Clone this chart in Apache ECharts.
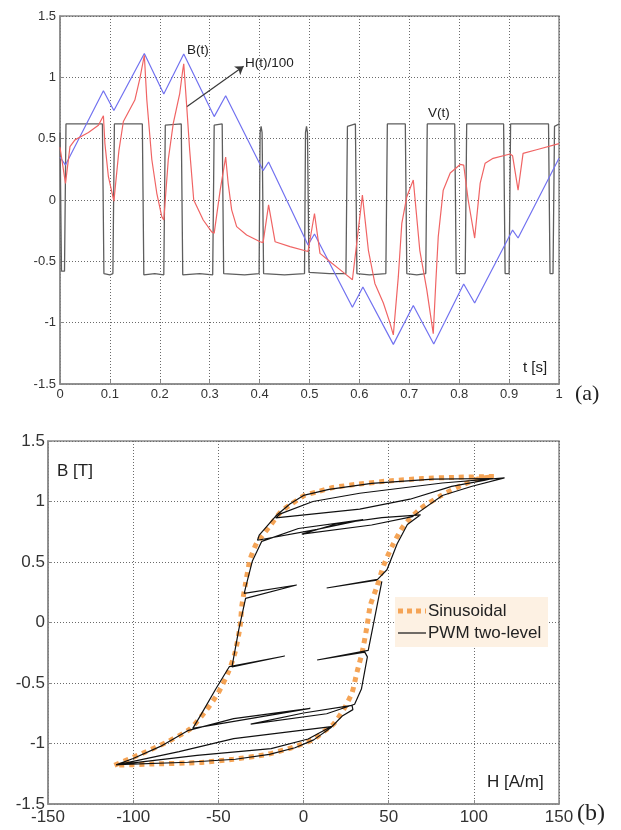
<!DOCTYPE html>
<html><head><meta charset="utf-8">
<script src="https://cdn.jsdelivr.net/npm/echarts@6/dist/echarts.min.js"></script>
<style>html,body{margin:0;padding:0;background:#fff}#c{width:621px;height:830px}</style>
</head><body><div id="c"></div><script>
// ---- (a) time signals ----
const tV = [0, 0.003, 0.009, 0.012, 0.05, 0.085, 0.088, 0.1, 0.106, 0.109, 0.14, 0.165, 0.168, 0.19, 0.208, 0.211, 0.243, 0.246, 0.28, 0.306, 0.309, 0.325, 0.328, 0.37, 0.399, 0.401, 0.403, 0.405, 0.408, 0.45, 0.49, 0.492, 0.494, 0.496, 0.499, 0.54, 0.573, 0.576, 0.592, 0.595, 0.62, 0.653, 0.656, 0.692, 0.695, 0.715, 0.733, 0.736, 0.791, 0.794, 0.812, 0.815, 0.889, 0.892, 0.9, 0.903, 0.979, 0.982, 0.988, 0.991, 1.0];
const vV = [0.55, -0.58, -0.58, 0.62, 0.62, 0.62, -0.6, -0.61, -0.6, 0.62, 0.62, 0.62, -0.61, -0.6, -0.61, 0.61, 0.62, -0.61, -0.6, -0.61, 0.61, 0.62, -0.6, -0.61, -0.6, 0.55, 0.6, 0.55, -0.6, -0.61, -0.6, 0.55, 0.6, 0.55, -0.59, -0.6, -0.6, 0.6, 0.62, -0.6, -0.61, -0.6, 0.62, 0.62, -0.6, -0.61, -0.6, 0.62, 0.62, -0.6, -0.6, 0.62, 0.62, -0.6, -0.6, 0.62, 0.62, -0.6, -0.6, 0.6, 0.62];
const tB = [0, 0.011, 0.087, 0.108, 0.169, 0.208, 0.248, 0.309, 0.332, 0.407, 0.418, 0.497, 0.51, 0.586, 0.607, 0.668, 0.708, 0.749, 0.809, 0.831, 0.907, 0.918, 1.0];
const vB = [0.35, 0.285, 0.89, 0.73, 1.195, 0.864, 1.19, 0.68, 0.85, 0.24, 0.31, -0.367, -0.277, -0.875, -0.71, -1.177, -0.86, -1.174, -0.685, -0.84, -0.245, -0.31, 0.34];
const tH = [0, 0.011, 0.02, 0.03, 0.057, 0.077, 0.087, 0.09, 0.097, 0.108, 0.118, 0.127, 0.15, 0.16, 0.169, 0.174, 0.184, 0.194, 0.204, 0.208, 0.217, 0.227, 0.24, 0.246, 0.248, 0.254, 0.26, 0.268, 0.287, 0.304, 0.309, 0.321, 0.332, 0.337, 0.344, 0.354, 0.374, 0.401, 0.407, 0.418, 0.431, 0.461, 0.497, 0.51, 0.521, 0.545, 0.571, 0.586, 0.606, 0.618, 0.631, 0.648, 0.661, 0.668, 0.678, 0.685, 0.695, 0.708, 0.721, 0.735, 0.748, 0.753, 0.758, 0.768, 0.782, 0.802, 0.809, 0.818, 0.831, 0.842, 0.852, 0.868, 0.902, 0.907, 0.918, 0.928, 0.955, 1.0];
const vH = [0.43, 0.136, 0.435, 0.49, 0.55, 0.61, 0.687, 0.46, 0.19, -0.01, 0.40, 0.64, 0.815, 0.99, 1.18, 0.815, 0.33, 0.055, -0.136, -0.163, 0.33, 0.625, 0.87, 1.06, 1.11, 0.76, 0.40, 0.0, -0.163, -0.26, -0.27, 0.08, 0.35, 0.136, -0.08, -0.217, -0.285, -0.34, -0.348, -0.04, -0.34, -0.38, -0.42, -0.11, -0.435, -0.516, -0.60, -0.65, 0.04, -0.41, -0.68, -0.84, -1.0, -1.1, -0.625, -0.19, 0.027, 0.163, -0.41, -0.73, -1.09, -0.68, -0.3, 0.08, 0.22, 0.29, 0.285, 0.0, -0.31, 0.136, 0.30, 0.34, 0.375, 0.36, 0.08, 0.38, 0.41, 0.46];
// ---- (b) B-H loops ----
const sinH = [111.8, 90, 70, 50, 30, 17.6, 8, 0, -7, -13.7, -19.6, -24, -27.4, -31.4, -34.3, -36.2, -37.2, -40.2, -44.1, -50, -56.8, -66.6, -80.4, -96, -111, -90.2, -60.8, -41.2, -21.5, -5.9, 5.9, 12, 17.6, 23.5, 28.5, 31.4, 34.4, 37.3, 39.2, 43.2, 47, 52, 58.8, 68.6, 80.4, 92.2, 102, 111.8];
const sinB = [1.207, 1.2, 1.19, 1.17, 1.14, 1.116, 1.08, 1.046, 0.98, 0.91, 0.80, 0.72, 0.66, 0.52, 0.30, 0.137, -0.03, -0.25, -0.41, -0.58, -0.72, -0.88, -0.99, -1.09, -1.18, -1.17, -1.157, -1.13, -1.09, -1.03, -0.965, -0.9, -0.84, -0.72, -0.58, -0.41, -0.25, -0.03, 0.14, 0.30, 0.47, 0.63, 0.80, 0.94, 1.046, 1.13, 1.184, 1.207];
const pwmH = [43, 13.6, 43.5, 49, 55, 61, 68.7, 46, 19, -1, 40, 64, 81.5, 99, 118, 81.5, 33, 5.5, -13.6, -16.3, 33, 62.5, 87, 106, 111, 76, 40, 15, 0, -8, -16.3, -26, -27, 8, 35, -3, -24.5, -30, -34, -34.8, -4, -34, -38, -42, -11, -43.5, -51.6, -60, -65, 4, -41, -68, -84, -100, -110, -62.5, -19, 2.7, 16.3, -41, -73, -109, -68, -40, -20, -5, 6, 16, 23, 29, 28.5, 0, -31, 13.6, 30, 34, 37.5, 36, 8, 38, 41, 46];
const pwmB = [0.35, 0.285, 0.357, 0.436, 0.651, 0.81, 0.89, 0.867, 0.814, 0.73, 0.806, 0.875, 1.05, 1.126, 1.195, 1.153, 1.068, 1.0, 0.898, 0.864, 0.937, 1.019, 1.125, 1.174, 1.19, 1.185, 1.15, 1.1, 1.05, 0.98, 0.88, 0.722, 0.68, 0.769, 0.85, 0.777, 0.671, 0.509, 0.289, 0.24, 0.31, 0.199, -0.059, -0.367, -0.277, -0.364, -0.552, -0.757, -0.875, -0.71, -0.794, -0.894, -1.024, -1.124, -1.177, -1.098, -1.042, -0.963, -0.86, -0.96, -1.067, -1.174, -1.155, -1.13, -1.09, -1.035, -0.97, -0.87, -0.77, -0.72, -0.685, -0.748, -0.84, -0.754, -0.676, -0.55, -0.284, -0.245, -0.31, -0.231, -0.017, 0.34];
// axis ranges
const axisA = {xmin: 0, xmax: 1, xstep: 0.1, ymin: -1.5, ymax: 1.5, ystep: 0.5};
const axisB = {xmin: -150, xmax: 150, xstep: 50, ymin: -1.5, ymax: 1.5, ystep: 0.5};

const pair = (xs, ys) => xs.map((x, i) => [x, ys[i]]);
const SANS = "'Liberation Sans', Arial, sans-serif";
const SERIF = "'Liberation Serif', 'Times New Roman', serif";
const gridLine = {show: true, lineStyle: {color: '#6a6a6a', type: [1, 2], width: 1}};
function mkX(idx, ax, fs, margin) {
  return {gridIndex: idx, type: 'value', min: ax.xmin, max: ax.xmax, interval: ax.xstep,
    axisLine: {show: true, onZero: false, lineStyle: {color: '#8a8a8a', width: 1.5}},
    axisTick: {show: true, inside: true, length: 4, lineStyle: {color: '#8a8a8a'}},
    axisLabel: {fontSize: fs, color: '#333', margin: margin, fontFamily: SANS},
    splitLine: gridLine};
}
function mkY(idx, ax, fs, margin) {
  return {gridIndex: idx, type: 'value', min: ax.ymin, max: ax.ymax, interval: ax.ystep,
    axisLine: {show: true, onZero: false, lineStyle: {color: '#8a8a8a', width: 1.5}},
    axisTick: {show: true, inside: true, length: 4, lineStyle: {color: '#8a8a8a'}},
    axisLabel: {fontSize: fs, color: '#333', margin: margin, fontFamily: SANS},
    splitLine: gridLine};
}
const chart = echarts.init(document.getElementById('c'), null, {renderer: 'canvas'});
const txt = (text, x, y, fs, font) => ({type: 'text', x: x, y: y, z: 100,
  style: {text: text, fontSize: fs, fontFamily: font || SANS, fill: '#222', textVerticalAlign: 'middle'}});
chart.setOption({
  animation: false,
  backgroundColor: '#fff',
  grid: [
    {left: 60, top: 16, width: 499, height: 368, show: true, borderColor: '#8a8a8a', borderWidth: 1.5, backgroundColor: 'transparent', containLabel: false, outerBoundsMode: 'none'},
    {left: 48, top: 441, width: 511, height: 363, show: true, borderColor: '#8a8a8a', borderWidth: 1.5, backgroundColor: 'transparent', containLabel: false, outerBoundsMode: 'none'}
  ],
  xAxis: [mkX(0, axisA, 13, 4), mkX(1, axisB, 17, 5)],
  yAxis: [mkY(0, axisA, 13, 4), mkY(1, axisB, 17, 3)],
  series: [
    {name: 'V(t)', type: 'line', xAxisIndex: 0, yAxisIndex: 0, data: pair(tV, vV), showSymbol: false,
      lineStyle: {color: '#5e5e5e', width: 1.3}, z: 3},
    {name: 'B(t)', type: 'line', xAxisIndex: 0, yAxisIndex: 0, data: pair(tB, vB), showSymbol: false,
      lineStyle: {color: '#7272f0', width: 1.2}, z: 4},
    {name: 'H(t)/100', type: 'line', xAxisIndex: 0, yAxisIndex: 0, data: pair(tH, vH), showSymbol: false,
      lineStyle: {color: '#f06464', width: 1.2}, z: 5,
      markLine: {silent: true, symbol: ['none', 'arrow'], symbolSize: 8, label: {show: false},
        lineStyle: {color: '#3a3a3a', width: 1.2, type: 'solid'},
        data: [[{coord: [0.254, 0.76]}, {coord: [0.368, 1.09]}]]}},
    {name: 'Sinusoidal', type: 'line', xAxisIndex: 1, yAxisIndex: 1, data: pair(sinH, sinB), showSymbol: false,
      smooth: 0.2, lineStyle: {color: '#f5a456', width: 5, type: [5, 5], cap: 'butt'}, z: 3},
    {name: 'PWM two-level', type: 'line', xAxisIndex: 1, yAxisIndex: 1, data: pair(pwmH, pwmB), showSymbol: false,
      lineStyle: {color: '#111', width: 1.2}, z: 5}
  ],
  graphic: [
    txt('B(t)', 187, 50, 13.5),
    txt('H(t)/100', 245, 63, 13.5),
    txt('V(t)', 428, 113, 13.5),
    txt('t [s]', 523, 368, 15),
    txt('(a)', 575, 394, 22, SERIF),
    txt('B [T]', 57, 471, 17),
    txt('H [A/m]', 487, 782, 17),
    txt('(b)', 577, 814, 24, SERIF),
    {type: 'rect', z: 90, shape: {x: 395, y: 597, width: 153, height: 50}, style: {fill: '#fdf1e3'}},
    {type: 'line', z: 100, shape: {x1: 398, y1: 611, x2: 426, y2: 611}, style: {stroke: '#f5a456', lineWidth: 5, lineDash: [5, 4]}},
    {type: 'line', z: 100, shape: {x1: 398, y1: 633, x2: 426, y2: 633}, style: {stroke: '#111', lineWidth: 1.2}},
    txt('Sinusoidal', 428, 611, 17),
    txt('PWM two-level', 428, 633, 17)
  ]
});
</script></body></html>
